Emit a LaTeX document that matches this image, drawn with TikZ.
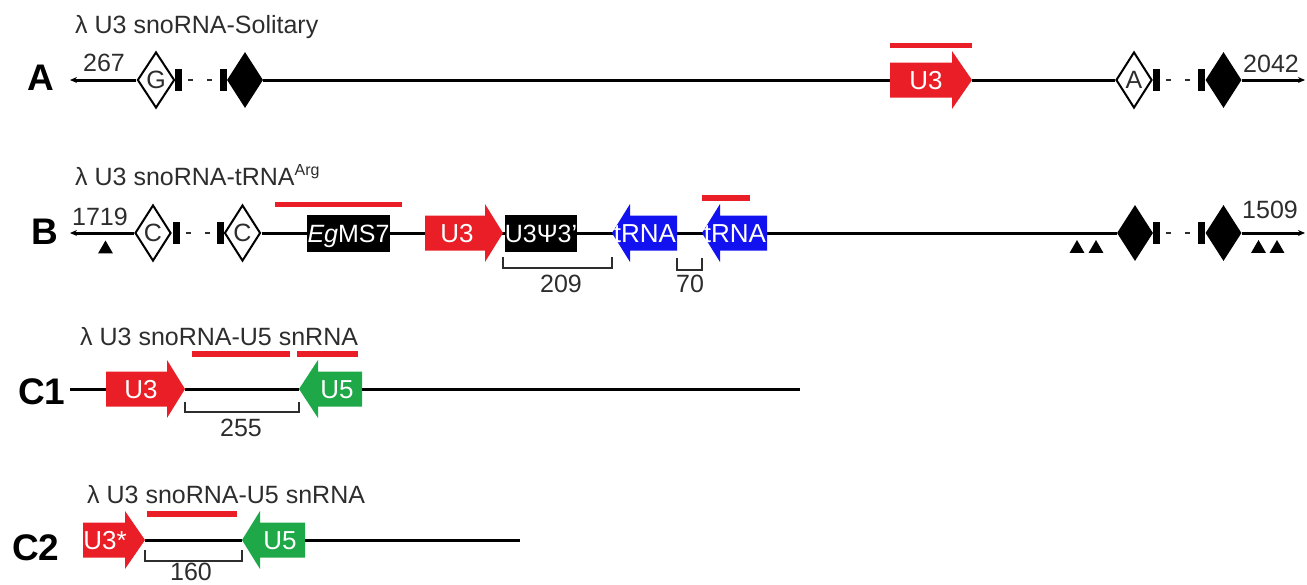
\documentclass[tikz,border=0pt]{standalone}
\usepackage{fontspec}
\setmainfont{Liberation Sans}
\usetikzlibrary{arrows.meta,shapes.geometric}
\definecolor{gred}{RGB}{233,30,38}
\definecolor{gblue}{RGB}{18,18,240}
\definecolor{ggreen}{RGB}{30,168,72}
\definecolor{tgray}{RGB}{45,45,45}
\pgfdeclarelayer{bg}
\pgfsetlayers{bg,main}
% forward gene arrow: name, x-start, x-neck, x-tip, y, colour, text-x, text
\newcommand{\fwdgene}[8]{%
  \fill[#6] (#2,#5-17.5) -- (#3,#5-17.5) -- (#3,#5-29) -- (#4,#5) -- (#3,#5+29) -- (#3,#5+17.5) -- (#2,#5+17.5) -- cycle;
  \coordinate (#1-s) at (#2,#5);
  \coordinate (#1-t) at (#4,#5);
  \node[gtxt] (#1) at (#7,#5) {#8};}
% reverse gene arrow: name, x-tip, x-neck, x-end, y, colour, text-x, text
\newcommand{\revgene}[8]{%
  \fill[#6] (#2,#5) -- (#3,#5-29) -- (#3,#5-17.5) -- (#4,#5-17.5) -- (#4,#5+17.5) -- (#3,#5+17.5) -- (#3,#5+29) -- cycle;
  \coordinate (#1-t) at (#2,#5);
  \coordinate (#1-e) at (#4,#5);
  \node[gtxt] (#1) at (#7,#5) {#8};}
\begin{document}
\begin{tikzpicture}[x=1pt,y=-1pt,
  bline/.style={line width=3pt, black},
  endtip/.style={-{Stealth[length=7pt,width=6pt]}},
  dsh/.style={line width=2pt, tgray, dash pattern=on 5pt off 14pt, shorten <=6pt, shorten >=6pt},
  rbar/.style={line width=5.5pt, gred},
  brk/.style={line width=1.6pt, tgray},
  lbltx/.style={font=\fontsize{37}{40}\selectfont\bfseries, text=black, inner sep=0, anchor=base west},
  ttltx/.style={font=\fontsize{25}{30}\selectfont, text=tgray, inner sep=0, anchor=base west},
  numtx/.style={font=\fontsize{25}{30}\selectfont, text=tgray, inner sep=0, text height=18pt, text depth=0pt},
  gtxt/.style={font=\fontsize{26}{30}\selectfont, text=white, inner sep=0, text height=18.5pt, text depth=0pt},
  gbox/.style={font=\fontsize{25}{30}\selectfont, text=white, inner sep=0, text height=18pt, text depth=0pt, fill=black, minimum height=37pt},
  odia/.style={diamond, draw=black, fill=white, line width=2pt, minimum width=36pt, minimum height=56pt, inner sep=0, font=\fontsize{25}{28}\selectfont, text=tgray},
  fdia/.style={diamond, fill=black, minimum width=36pt, minimum height=56pt, inner sep=0},
  barmk/.style={fill=black, minimum width=7pt, minimum height=22pt, inner sep=0},
  trimk/.style={regular polygon, regular polygon sides=3, fill=black, minimum size=17pt, inner sep=0}
]
\useasboundingbox (0,0) rectangle (1307,584);

% ---------------- Row A ----------------
\node[ttltx] (tA) at (75,33) {λ U3 snoRNA-Solitary};
\node[lbltx] (lA) at (27,90) {A};
\coordinate (eA1) at (70,80);
\node[numtx] (nA1) at (104,62) {267};
\node[odia] (dA1) at (156,80) {G};
\node[barmk] (bA1) at (178.5,80) {};
\node[barmk] (bA2) at (223.5,80) {};
\node[fdia] (fA1) at (245,80) {};
\fwdgene{gA}{890}{952}{972}{80}{gred}{926}{U3}
\draw[rbar] (890,45.5) -- (972,45.5);
\node[odia] (dA2) at (1134,80) {A};
\node[barmk] (bA3) at (1156.5,80) {};
\node[barmk] (bA4) at (1201.5,80) {};
\node[fdia] (fA2) at (1223.5,80) {};
\coordinate (eA2) at (1305,80);
\node[numtx] (nA2) at (1271,63) {2042};
\draw[bline,endtip] (dA1.west) -- (eA1);
\draw[dsh] (bA1.east) -- (bA2.west);
\draw[bline] (fA1.east) -- (gA-s);
\draw[bline] (gA-t) -- (dA2.west);
\draw[dsh] (bA3.east) -- (bA4.west);
\draw[bline,endtip] (fA2.east) -- (eA2);

% ---------------- Row B ----------------
\node[ttltx] (tB) at (75,185) {λ U3 snoRNA-tRNA\raisebox{10pt}{\fontsize{16}{18}\selectfont Arg}};
\node[lbltx] (lB) at (31,244) {B};
\coordinate (eB1) at (70,233);
\node[numtx] (nB1) at (100,216) {1719};
\node[trimk] (trB1) at (105.5,249) {};
\node[odia] (dB1) at (153,233) {C};
\node[barmk] (bB1) at (176.5,233) {};
\node[barmk] (bB2) at (220,233) {};
\node[odia] (dB2) at (242.5,233) {C};
\draw[rbar] (275,204.5) -- (402,204.5);
\node[gbox, minimum width=83pt] (eg) at (348.5,233.5) {\textit{Eg}MS7};
\fwdgene{gB}{425}{485}{503}{233}{gred}{457}{U3}
\node[gbox, minimum width=72pt] (psi) at (541,233.5) {U3Ψ3'};
\revgene{tB1}{612}{630}{677}{233}{gblue}{645}{tRNA}
\revgene{tB2}{702}{720}{767}{233}{gblue}{735}{tRNA}
\draw[rbar] (702,198) -- (750,198);
\draw[brk] ([yshift=-24pt]gB-t) -- ([yshift=-35pt]gB-t) -- ([yshift=-35pt]tB1-t) -- ([yshift=-24pt]tB1-t);
\node[numtx] (n209) at (561,283) {209};
\draw[brk] ([yshift=-25pt]tB1-e) -- ([yshift=-37pt]tB1-e) -- ([yshift=-37pt]tB2-t) -- ([yshift=-25pt]tB2-t);
\node[numtx] (n70) at (690,283) {70};
\node[trimk] (trB2) at (1077,248.5) {};
\node[trimk] (trB3) at (1096,248.5) {};
\node[fdia] (fB1) at (1135,233) {};
\node[barmk] (bB3) at (1156.5,233) {};
\node[barmk] (bB4) at (1201.5,233) {};
\node[fdia] (fB2) at (1223.5,233) {};
\node[trimk] (trB4) at (1258.5,248.5) {};
\node[trimk] (trB5) at (1277,248.5) {};
\node[numtx] (nB2) at (1270,209) {1509};
\coordinate (eB2) at (1305,233);
\draw[bline,endtip] (dB1.west) -- (eB1);
\draw[dsh] (bB1.east) -- (bB2.west);
\begin{pgfonlayer}{bg}
\draw[bline] (dB2.east) -- (fB1.west);
\end{pgfonlayer}
\draw[dsh] (bB3.east) -- (bB4.west);
\draw[bline,endtip] (fB2.east) -- (eB2);

% ---------------- Row C1 ----------------
\node[ttltx] (tC1) at (80,345) {λ U3 snoRNA-U5 snRNA};
\node[lbltx] (lC1) at (18,404) {C1};
\coordinate (eC1a) at (70,389);
\coordinate (eC1b) at (800,389);
\fwdgene{gC1}{106}{167}{185}{389}{gred}{141}{U3}
\revgene{uC1}{299}{318}{362}{389}{ggreen}{337}{U5}
\draw[rbar] (192,354) -- (290,354);
\draw[rbar] (297,354) -- (358,354);
\draw[brk] ([yshift=-13pt]gC1-t) -- ([yshift=-23pt]gC1-t) -- ([yshift=-23pt]uC1-t) -- ([yshift=-13pt]uC1-t);
\node[numtx] (n255) at (241,427) {255};
\draw[bline] (eC1a) -- (gC1-s);
\draw[bline] (gC1-t) -- (uC1-t);
\draw[bline] (uC1-e) -- (eC1b);

% ---------------- Row C2 ----------------
\node[ttltx] (tC2) at (87,503) {λ U3 snoRNA-U5 snRNA};
\node[lbltx] (lC2) at (12,560) {C2};
\fwdgene{gC2}{83}{125}{145}{540}{gred}{105}{U3*}
\revgene{uC2}{242}{260}{305}{540}{ggreen}{280}{U5}
\draw[rbar] (147,514) -- (237,514);
\draw[brk] ([yshift=-10pt]gC2-t) -- ([yshift=-21pt]gC2-t) -- ([yshift=-21pt]uC2-t) -- ([yshift=-10pt]uC2-t);
\node[numtx] (n160) at (191,571) {160};
\coordinate (eC2) at (520,540);
\draw[bline] (gC2-t) -- (uC2-t);
\draw[bline] (uC2-e) -- (eC2);
\end{tikzpicture}
\end{document}
